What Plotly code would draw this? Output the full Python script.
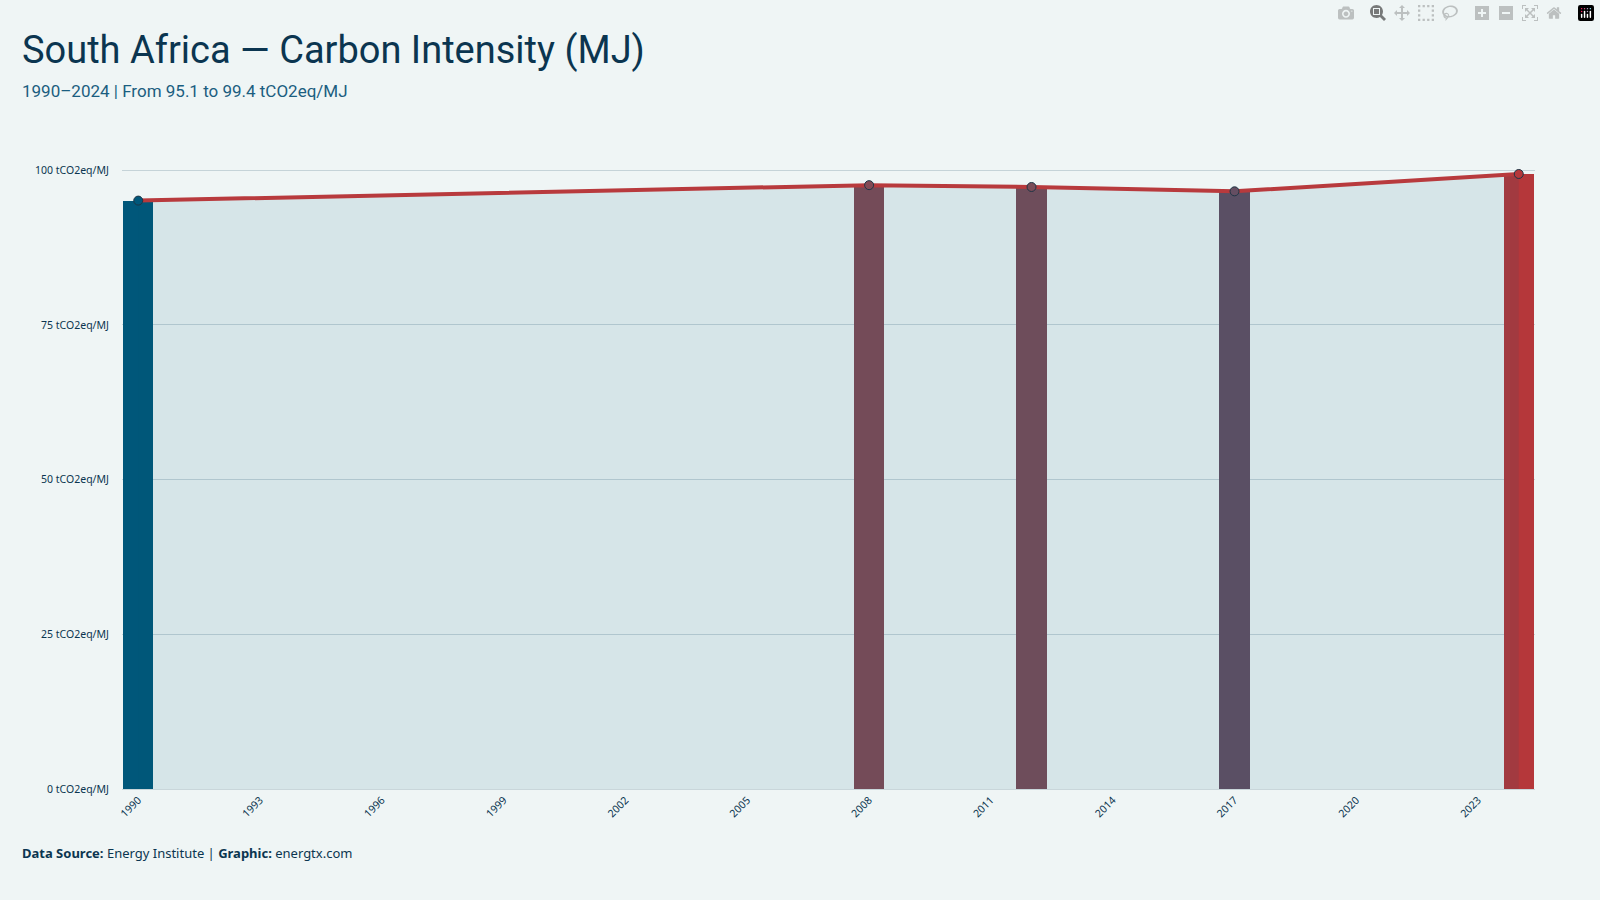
import plotly.graph_objects as go

years = [1990, 2008, 2012, 2017, 2024]
values = [95.1, 97.6, 97.3, 96.6, 99.4]
bar_colors = ["#00577A", "#824A55", "#7B4C58", "#654E62", "#B5373A"]
tick_years = list(range(1990, 2025, 3))
y_ticks = [0, 25, 50, 75, 100]

fig = go.Figure()
fig.add_trace(go.Scatter(x=years, y=values, mode="lines", fill="tozeroy",
                         fillcolor="rgba(0,87,122,0.10)", line=dict(width=0),
                         hoverinfo="skip", showlegend=False))
fig.add_trace(go.Bar(x=years, y=values, width=0.75, marker=dict(color=bar_colors, line=dict(width=0)),
                     showlegend=False))
fig.add_trace(go.Scatter(x=years, y=values, mode="lines+markers",
                         line=dict(color="#B83A3D", width=4),
                         marker=dict(size=9, color=bar_colors, line=dict(color="#1d3545", width=1)),
                         showlegend=False))

font = "Roboto, sans-serif"
W, H = 1600, 900
pl, pr, pt, pb = 122, 65, 161, 111
pw, ph = W - pl - pr, H - pt - pb

def px(x):
    return (x - pl) / pw

def py(y):
    return (H - pb - y) / ph

fig.update_layout(
    width=W, height=H,
    paper_bgcolor="#EFF5F5", plot_bgcolor="#EFF5F5",
    margin=dict(l=pl, r=pr, t=pt, b=pb),
    font=dict(family="Noto Sans, sans-serif", color="#0B3550"),
    xaxis=dict(range=[1989.6, 2024.4], tickvals=tick_years, ticktext=[str(y) for y in tick_years],
               tickangle=-45, tickfont=dict(size=10.5, color="#0B3550"), showgrid=False,
               showline=True, linecolor="#c9d6da", zeroline=False),
    yaxis=dict(range=[0, 101.5], tickvals=y_ticks, ticktext=[f"{v} tCO2eq/MJ" for v in y_ticks],
               tickfont=dict(size=10.5, color="#0B3550"), gridcolor="#c5d3d8", gridwidth=1,
               zeroline=False, showline=False, ticks="outside", ticklen=10, tickcolor="rgba(0,0,0,0)"),
    bargap=0,
    annotations=[
        dict(text="South Africa — Carbon Intensity (MJ)", x=px(20), y=py(50),
             xref="paper", yref="paper", showarrow=False, xanchor="left", yanchor="middle",
             font=dict(family=font, size=38, color="#0B3550")),
        dict(text="1990–2024 | From 95.1 to 99.4 tCO2eq/MJ", x=px(20), y=py(91),
             xref="paper", yref="paper", showarrow=False, xanchor="left", yanchor="middle",
             font=dict(family=font, size=17, color="#1B5E80")),
        dict(text="<b>Data Source:</b> Energy Institute | <b>Graphic:</b> energtx.com", x=px(20), y=py(853),
             xref="paper", yref="paper", showarrow=False, xanchor="left", yanchor="middle",
             font=dict(size=13, color="#0B3550")),
    ],
)
fig.write_html("out.html", post_script="document.body.style.margin='0';document.body.style.background='#EFF5F5';")
